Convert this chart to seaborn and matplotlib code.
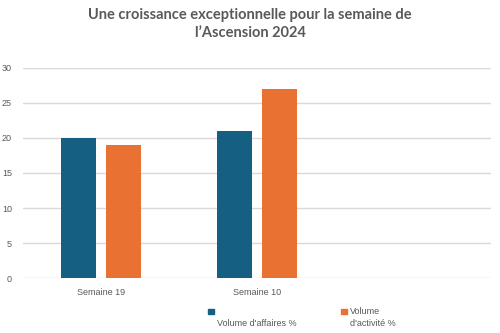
import matplotlib
matplotlib.use("Agg")
import matplotlib.pyplot as plt
import seaborn as sns
import pandas as pd
import numpy as np
from matplotlib.patches import Rectangle

categories = ["Semaine 19", "Semaine 10", ""]
affaires = [20, 21, np.nan]
activite = [19, 27, np.nan]
series_names = ["Volume d'affaires %", "Volume d'activité %"]
yticks = [0, 5, 10, 15, 20, 25, 30]

df = pd.DataFrame({
    "semaine": categories * 2,
    "serie": [series_names[0]] * 3 + [series_names[1]] * 3,
    "valeur": affaires + activite,
})

sns.set_theme(style="white")
plt.rcParams["font.family"] = ["Liberation Sans", "DejaVu Sans"]

grey = "#595959"
blue = "#156082"
orange = "#E97132"

fig = plt.figure(figsize=(5, 3.33), dpi=100)
ax = fig.add_axes([0.046, 0.165, 0.936, 0.631])

sns.barplot(data=df, x="semaine", y="valeur", hue="serie", order=categories,
            hue_order=series_names, palette=[blue, orange], width=0.568,
            gap=0.216, ax=ax, legend=False, saturation=1, linewidth=0)

ax.set_ylim(0, 30)
ax.set_xlim(-0.5, 2.5)
ax.set_yticks(yticks)
ax.yaxis.grid(True, color="#d9d9d9", linewidth=1)
ax.set_axisbelow(True)
for s in ax.spines.values():
    s.set_visible(False)
ax.set_xlabel("")
ax.set_ylabel("")
ax.tick_params(axis="both", length=0, labelsize=6.5, colors=grey, pad=7)
ax.tick_params(axis="y", pad=8)

fig.suptitle("Une croissance exceptionnelle pour la semaine de\nl\u2019Ascension 2024",
             x=0.5, y=0.975, fontsize=10.5, fontweight="bold", color=grey,
             fontfamily="Lato", linespacing=1.35)

# legend
fig.patches.append(Rectangle((208 / 500, 1 - 314 / 333), 6 / 500, 5 / 333,
                             transform=fig.transFigure, color=blue))
fig.text(217 / 500, 1 - 323 / 333, series_names[0], fontsize=6.5, color=grey,
         va="center", ha="left")
fig.patches.append(Rectangle((341 / 500, 1 - 314 / 333), 6 / 500, 5 / 333,
                             transform=fig.transFigure, color=orange))
fig.text(349.5 / 500, 1 - 311.5 / 333, "Volume", fontsize=6.5, color=grey,
         va="center", ha="left")
fig.text(349.5 / 500, 1 - 323 / 333, "d'activité %", fontsize=6.5, color=grey,
         va="center", ha="left")

fig.savefig("out.png", dpi=100, facecolor="white")
